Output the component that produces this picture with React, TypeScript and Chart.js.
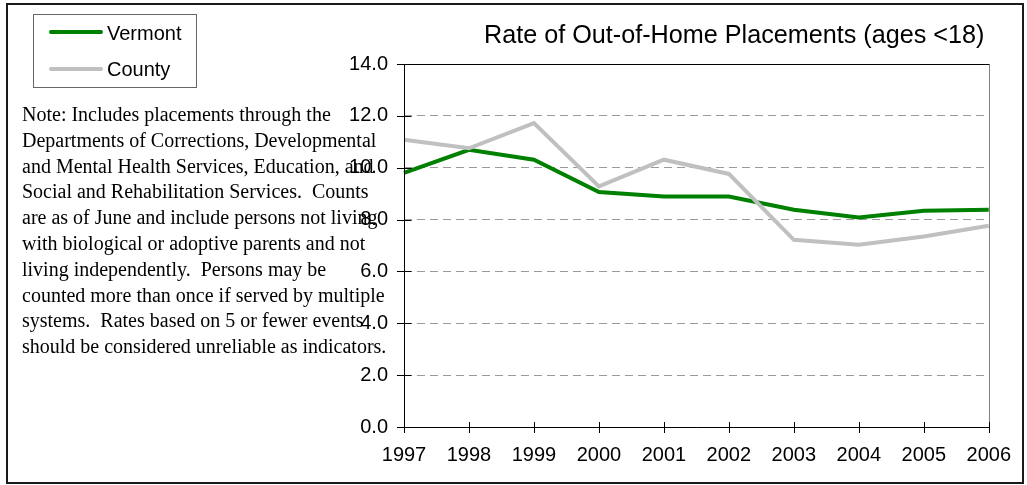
import React, { useEffect, useRef } from "react";
import { Chart, registerables } from "chart.js";

Chart.register(...registerables);

// ---- Data ----
const years = ["1997", "1998", "1999", "2000", "2001", "2002", "2003", "2004", "2005", "2006"];
const vermont = [9.8, 10.69, 10.31, 9.06, 8.89, 8.89, 8.38, 8.08, 8.34, 8.38];
const county = [11.08, 10.75, 11.72, 9.28, 10.31, 9.76, 7.22, 7.03, 7.35, 7.76];
const yTicks = [0, 2, 4, 6, 8, 10, 12, 14];
const seriesNames = ["Vermont", "County"];
const chartTitle = "Rate of Out-of-Home Placements (ages <18)";
const noteLines = [
  "Note: Includes placements through the",
  "Departments of Corrections, Developmental",
  "and Mental Health Services, Education, and",
  "Social and Rehabilitation Services.  Counts",
  "are as of June and include persons not living",
  "with biological or adoptive parents and not",
  "living independently.  Persons may be",
  "counted more than once if served by multiple",
  "systems.  Rates based on 5 or fewer events",
  "should be considered unreliable as indicators.",
];

// ---- Styles ----
const COLORS = { vermont: "#008000", county: "#C0C0C0" };
const SANS = "'Liberation Sans', Arial, sans-serif";
const SERIF = "'Liberation Serif', 'Times New Roman', serif";
const W = 1027;
const H = 485;

const framePlugin = {
  id: "frameAxes",
  afterDatasetsDraw(chart: any) {
    const { ctx, chartArea, scales } = chart;
    const { left, right, top, bottom } = chartArea;
    const L = Math.round(left) + 0.5;
    const R = Math.round(right) + 0.5;
    const T = Math.round(top) + 0.5;
    const B = Math.round(bottom) + 0.5;
    ctx.save();
    ctx.setLineDash([]);
    ctx.lineWidth = 1;
    // right border (gray)
    ctx.strokeStyle = "#808080";
    ctx.beginPath();
    ctx.moveTo(R, T);
    ctx.lineTo(R, B);
    ctx.stroke();
    // top border + axes (black)
    ctx.strokeStyle = "#000";
    ctx.beginPath();
    ctx.moveTo(L, T);
    ctx.lineTo(R, T);
    ctx.moveTo(L, T);
    ctx.lineTo(L, B);
    ctx.moveTo(L, B);
    ctx.lineTo(R + 0.5, B);
    // y tick marks (crossing)
    scales.y.ticks.forEach((t: any) => {
      const py = Math.round(scales.y.getPixelForValue(t.value)) + 0.5;
      ctx.moveTo(L - 7.5, py);
      ctx.lineTo(L + 7, py);
    });
    // x tick marks (crossing)
    scales.x.ticks.forEach((_t: any, i: number) => {
      const px = Math.round(scales.x.getPixelForTick(i)) + 0.5;
      ctx.moveTo(px, B - 5.5);
      ctx.lineTo(px, B + 5.5);
    });
    ctx.stroke();
    ctx.restore();
  },
};

function LineChart() {
  const canvasRef = useRef<HTMLCanvasElement | null>(null);

  useEffect(() => {
    const canvas = canvasRef.current;
    if (!canvas) return;
    const chart = new Chart(canvas, {
      type: "line",
      data: {
        labels: years,
        datasets: [
          {
            label: seriesNames[0],
            data: vermont,
            borderColor: COLORS.vermont,
            backgroundColor: COLORS.vermont,
            borderWidth: 4,
            pointRadius: 0,
            tension: 0,
            order: 1,
          },
          {
            label: seriesNames[1],
            data: county,
            borderColor: COLORS.county,
            backgroundColor: COLORS.county,
            borderWidth: 4,
            pointRadius: 0,
            tension: 0,
            order: 0,
          },
        ],
      },
      options: {
        animation: false,
        responsive: false,
        devicePixelRatio: 1,
        events: [],
        layout: { padding: { top: 64, right: 38, bottom: 0, left: 0 } },
        plugins: {
          legend: { display: false },
          title: { display: false },
          tooltip: { enabled: false },
        },
        scales: {
          x: {
            type: "category",
            offset: false,
            grid: { display: false, drawTicks: false },
            border: { display: false },
            ticks: {
              color: "#000",
              font: { family: SANS, size: 20 },
              padding: 16,
              maxRotation: 0,
              autoSkip: false,
            },
            afterFit: (s: any) => {
              s.height = 58;
            },
          },
          y: {
            min: 0,
            max: 14,
            afterBuildTicks: (s: any) => {
              s.ticks = yTicks.map((v) => ({ value: v }));
            },
            grid: {
              drawTicks: false,
              lineWidth: 1,
              color: (c: any) =>
                c.tick && (c.tick.value === 0 || c.tick.value === 14) ? "rgba(0,0,0,0)" : "#9a9a9a",
            },
            border: { display: false, dash: [8, 5] },
            ticks: {
              color: "#000",
              font: { family: SANS, size: 20 },
              padding: 16,
              callback: (v: any) => Number(v).toFixed(1),
            },
            afterFit: (s: any) => {
              s.width = 404;
            },
          },
        },
      },
      plugins: [framePlugin],
    } as any);
    return () => chart.destroy();
  }, []);

  return <canvas ref={canvasRef} width={W} height={H} style={{ display: "block", width: W, height: H }} />;
}

export default function App() {
  const abs: React.CSSProperties = { position: "absolute" };
  return (
    <div style={{ position: "absolute", left: 0, top: 0, width: W, height: H, background: "#fff", overflow: "hidden" }}>
      <LineChart />
      {/* outer frame */}
      <div
        style={{
          ...abs,
          left: 6,
          top: 3,
          width: 1018,
          height: 481,
          border: "2px solid #1a1a1a",
          boxSizing: "border-box",
          pointerEvents: "none",
        }}
      />
      {/* title */}
      <div
        style={{
          ...abs,
          left: 484,
          top: 22,
          fontFamily: SANS,
          fontSize: 25.2,
          lineHeight: "25px",
          whiteSpace: "nowrap",
          color: "#000",
        }}
      >
        {chartTitle}
      </div>
      {/* legend */}
      <div
        style={{
          ...abs,
          left: 33,
          top: 14,
          width: 164,
          height: 74,
          border: "1px solid #666",
          boxSizing: "border-box",
          background: "#fff",
        }}
      />
      {seriesNames.map((name, i) => (
        <React.Fragment key={name}>
          <div
            style={{
              ...abs,
              left: 49,
              top: i === 0 ? 30 : 66.5,
              width: 54,
              height: 4,
              borderRadius: 2,
              background: i === 0 ? COLORS.vermont : COLORS.county,
            }}
          />
          <div
            style={{
              ...abs,
              left: 107,
              top: i === 0 ? 22.5 : 59,
              fontFamily: SANS,
              fontSize: 20,
              lineHeight: "20px",
              whiteSpace: "nowrap",
              color: "#000",
            }}
          >
            {name}
          </div>
        </React.Fragment>
      ))}
      {/* note */}
      <div
        style={{
          ...abs,
          left: 22,
          top: 102,
          fontFamily: SERIF,
          fontSize: 20,
          lineHeight: "25.8px",
          whiteSpace: "pre",
          color: "#000",
        }}
      >
        {noteLines.join("\n")}
      </div>
    </div>
  );
}
